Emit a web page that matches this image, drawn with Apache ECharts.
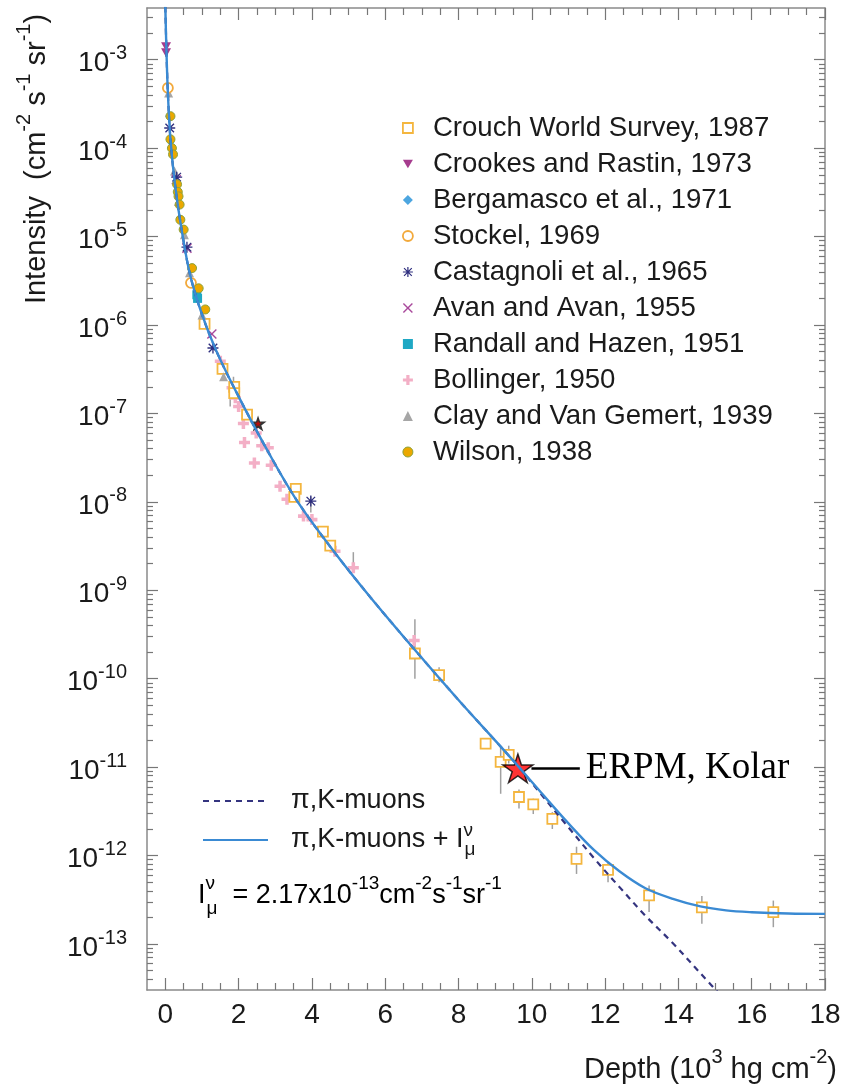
<!DOCTYPE html>
<html>
<head>
<meta charset="utf-8">
<script src="https://cdn.jsdelivr.net/npm/echarts@6/dist/echarts.min.js"></script>
<style>
  html, body { margin: 0; padding: 0; background: #fff; }
  #chart { width: 851px; height: 1092px; }
</style>
</head>
<body>
<div id="chart"></div>
<script>
// depth in 10^3 hg/cm2, intensity in cm-2 s-1 sr-1
const crouch = [[1.07, 1.03e-6], [1.56, 3.2e-7], [1.88, 2.0e-7], [1.88, 1.7e-7], [2.23, 9.7e-8],
  [3.56, 1.4e-8], [3.52, 1.14e-8], [4.30, 4.6e-9], [4.50, 3.2e-9], [6.81, 1.93e-10], [7.47, 1.1e-10],
  [8.74, 1.85e-11], [9.15, 1.15e-11], [9.37, 1.38e-11], [9.65, 4.6e-12], [10.04, 3.8e-12],
  [10.56, 2.6e-12], [11.22, 9.2e-13], [12.08, 6.9e-13], [13.20, 3.55e-13], [14.64, 2.6e-13], [16.59, 2.3e-13]];
const crookes = [[0.02, 1.4e-3], [0.02, 1.2e-3]];
const bergamasco = [[0.09, 2.3e-4], [0.15, 1.16e-4]];
const stockel = [[0.07, 4.8e-4], [0.70, 3.0e-6]];
const castagnoli = [[0.12, 1.69e-4], [0.31, 4.7e-5], [0.59, 7.6e-6], [1.30, 5.5e-7], [3.97, 1.02e-8]];
const avan = [[0.30, 4.4e-5], [0.59, 7.4e-6], [1.27, 7.9e-7]];
const randall = [[0.86, 2.2e-6], [0.88, 2.0e-6]];
const bollinger = [[1.50, 3.9e-7], [1.82, 1.95e-7], [1.91, 1.5e-7], [2.00, 1.2e-7], [2.13, 7.7e-8],
  [2.48, 6.0e-8], [2.16, 4.7e-8], [2.63, 4.3e-8], [2.81, 4.1e-8], [2.43, 2.75e-8], [2.89, 2.6e-8],
  [3.13, 1.5e-8], [3.32, 1.07e-8], [3.77, 6.9e-9], [4.00, 6.3e-9], [4.63, 2.76e-9], [5.13, 1.8e-9], [6.79, 2.7e-10]];
const clay = [[0.09, 4.2e-4], [0.25, 5.5e-5], [0.36, 2.5e-5], [0.52, 1.05e-5], [0.66, 3.9e-6], [1.00, 1.3e-6], [1.59, 2.6e-7]];
const wilson = [[0.14, 2.3e-4], [0.14, 1.26e-4], [0.18, 1.0e-4], [0.21, 8.5e-5], [0.32, 3.9e-5], [0.34, 3.2e-5],
  [0.36, 2.85e-5], [0.39, 2.3e-5], [0.41, 1.55e-5], [0.50, 1.2e-5], [0.73, 4.4e-6], [0.91, 2.6e-6], [1.09, 1.5e-6]];

// [depth, low, high]
const errBars = [[1.77, 1.2e-7, 1.6e-7], [1.86, 1.55e-7, 2.6e-7], [3.97, 7.6e-9, 1.15e-8], [5.13, 1.6e-9, 2.7e-9],
  [6.81, 1.0e-10, 4.7e-10], [7.47, 9.1e-11, 1.35e-10], [9.15, 5.0e-12, 1.74e-11], [9.37, 1.1e-11, 1.75e-11],
  [9.65, 3.4e-12, 5.6e-12], [10.04, 2.95e-12, 4.4e-12], [10.56, 2.0e-12, 3.1e-12], [11.22, 6.2e-13, 1.26e-12],
  [12.08, 5.0e-13, 8.5e-13], [13.20, 2.3e-13, 4.6e-13], [14.64, 1.7e-13, 3.5e-13], [16.59, 1.55e-13, 3.1e-13]];

// curves
const sharedCurve = [[0.0, 3.98e-3], [0.03, 1.29e-3], [0.07, 4.17e-4], [0.14, 1.26e-4], [0.27, 3.72e-5],
  [0.46, 1.10e-5], [0.68, 3.63e-6], [1.0, 1.32e-6], [1.4, 5.0e-7], [2.0, 1.55e-7], [2.8, 3.72e-8],
  [3.6, 1.02e-8], [4.6, 2.75e-9], [5.6, 8.3e-10], [6.8, 2.14e-10], [8.0, 5.75e-11], [9.2, 1.62e-11], [9.65, 1.0e-11]];
const totalTail = [[10.2, 5.47e-12], [11.0, 2.31e-12], [11.7, 1.15e-12], [12.4, 6.6e-13], [13.1, 4.27e-13],
  [13.85, 3.24e-13], [14.6, 2.66e-13], [15.3, 2.4e-13], [16.0, 2.29e-13], [17.0, 2.21e-13], [18.0, 2.19e-13]];
const muonTail = [[10.2, 5.25e-12], [11.0, 2.09e-12], [11.7, 9.33e-13], [12.4, 4.37e-13], [13.1, 2.09e-13],
  [13.85, 1.02e-13], [14.6, 4.68e-14], [15.3, 2.24e-14]];

const kolarStar = [[9.62, 9.7e-12]];
const otherStar = [[2.53, 7.7e-8]];
const arrowFrom = [11.31, 9.7e-12];
const arrowTo = [9.99, 9.7e-12];

const xTickLabels = [0, 2, 4, 6, 8, 10, 12, 14, 16, 18];
const yTickLabels = [-13, -12, -11, -10, -9, -8, -7, -6, -5, -4, -3];

const X_MIN = -0.5, X_MAX = 18;
const Y_MIN = -13.52, Y_MAX = -2.415;   // log10 of intensity
const FONT = 'Liberation Sans';
const INK = '#1a1a1a';

const lg = pts => pts.map(p => [p[0], Math.log10(p[1])]);

const xMinor = [];
for (let v = 0.5; v < X_MAX; v += 0.5) if (v % 2 !== 0) xMinor.push(v);
const yMinor = [];
for (let n = -14; n <= -3; n++) {
  for (let k = 2; k <= 9; k++) {
    const v = n + Math.log10(k);
    if (v > Y_MIN && v < Y_MAX) yMinor.push(v);
  }
}

const STAR = 'path://M50,0L61.23,34.55L97.55,34.55L68.17,55.9L79.39,90.45L50,69.1L20.61,90.45L31.83,55.9L2.45,34.55L38.77,34.55Z';
const TRI_DOWN = 'path://M0,0L100,0L50,87Z';
const ASTER = 'path://M0,44L100,44L100,56L0,56Z M44,0L56,0L56,100L44,100Z M15.5,7L93,84.5L84.5,93L7,15.5Z M84.5,7L93,15.5L15.5,93L7,84.5Z';
const XMARK = 'path://M10,0L50,40L90,0L100,10L60,50L100,90L90,100L50,60L10,100L0,90L40,50L0,10Z';
const PLUS = 'path://M34,0L66,0L66,34L100,34L100,66L66,66L66,100L34,100L34,66L0,66L0,34L34,34Z';

const markers = [
  { name: 'Crouch World Survey, 1987', data: crouch, symbol: 'rect', size: 10, icon: 'rect',
    style: { color: '#fff', borderColor: '#F4B63F', borderWidth: 1.8 } },
  { name: 'Crookes and Rastin, 1973', data: crookes, symbol: TRI_DOWN, size: [10, 9], icon: TRI_DOWN,
    style: { color: '#A63C8E' } },
  { name: 'Bergamasco et al., 1971', data: bergamasco, symbol: 'diamond', size: [7, 10], icon: 'diamond',
    style: { color: '#4DA6E0' } },
  { name: 'Stockel, 1969', data: stockel, symbol: 'circle', size: 10, icon: 'circle',
    style: { color: '#fff', borderColor: '#F2A93B', borderWidth: 1.8 } },
  { name: 'Castagnoli et al., 1965', data: castagnoli, symbol: ASTER, size: 11, icon: ASTER,
    style: { color: '#2E2E7E' } },
  { name: 'Avan and Avan, 1955', data: avan, symbol: XMARK, size: 10, icon: XMARK,
    style: { color: '#A94A9C' } },
  { name: 'Randall and Hazen, 1951', data: randall, symbol: 'rect', size: 9, icon: 'rect',
    style: { color: '#1FA8C4' } },
  { name: 'Bollinger, 1950', data: bollinger, symbol: PLUS, size: 11, icon: PLUS,
    style: { color: '#F3AFC6' } },
  { name: 'Clay and Van Gemert, 1939', data: clay, symbol: 'triangle', size: 9, icon: 'triangle',
    style: { color: '#A6A6A6' } },
  { name: 'Wilson, 1938', data: wilson, symbol: 'circle', size: 9, icon: 'circle',
    style: { color: '#EBA800', borderColor: '#8DA33A', borderWidth: 1 } }
];
// draw order on the plot (last on top)
const drawOrder = [7, 0, 8, 6, 5, 4, 3, 2, 9, 1];

function xAxisDef(position, ticks, len, main) {
  return {
    type: 'value', position, min: X_MIN, max: X_MAX,
    axisLine: { show: main, onZero: false, lineStyle: { color: '#8a8a8a', width: 1.5 } },
    axisTick: { show: true, inside: true, length: len, customValues: ticks, lineStyle: { color: '#777', width: 1.2 } },
    axisLabel: (main && position === 'bottom') ? {
      customValues: xTickLabels, margin: 11, color: INK, fontFamily: FONT, fontSize: 28
    } : { show: false },
    splitLine: { show: false }
  };
}
function yAxisDef(position, ticks, len, main) {
  return {
    type: 'value', position, min: Y_MIN, max: Y_MAX,
    axisLine: { show: main, onZero: false, lineStyle: { color: '#8a8a8a', width: 1.5 } },
    axisTick: { show: true, inside: true, length: len, customValues: ticks, lineStyle: { color: '#777', width: 1.2 } },
    axisLabel: (main && position === 'left') ? {
      customValues: yTickLabels, margin: 20, padding: [8, 0, 0, 0],
      formatter: v => '{b|10}{s|' + Math.round(v) + '}',
      rich: {
        b: { fontFamily: FONT, fontSize: 28, lineHeight: 40, color: INK, verticalAlign: 'middle' },
        s: { fontFamily: FONT, fontSize: 20, lineHeight: 16, color: INK, verticalAlign: 'top' }
      }
    } : { show: false },
    splitLine: { show: false }
  };
}

const series = [];
series.push({
  type: 'custom', name: 'err', silent: true,
  data: errBars.map(e => [e[0], Math.log10(e[1]), Math.log10(e[2])]),
  encode: { x: 0, y: [1, 2] },
  renderItem: (params, api) => {
    const a = api.coord([api.value(0), api.value(1)]);
    const b = api.coord([api.value(0), api.value(2)]);
    return { type: 'line', shape: { x1: a[0], y1: a[1], x2: b[0], y2: b[1] },
      style: { stroke: '#a0a0a0', lineWidth: 1.5 } };
  }
});
series.push({
  type: 'line', name: 'π,K-muons', data: lg(sharedCurve.concat(muonTail)), symbol: 'none',
  smooth: 0.35,
  lineStyle: { color: '#34347F', width: 2.2, type: [6, 5] }
});
series.push({
  type: 'line', name: 'π,K-muons + Iν', data: lg(sharedCurve.concat(totalTail)), symbol: 'none',
  smooth: 0.35,
  lineStyle: { color: '#3A8AD3', width: 2.4 }
});
drawOrder.forEach(i => {
  const m = markers[i];
  series.push({
    type: 'scatter', name: m.name, data: lg(m.data), symbol: m.symbol, symbolSize: m.size,
    itemStyle: Object.assign({ opacity: 1 }, m.style)
  });
});
series.push({
  type: 'scatter', name: 'star-black', data: lg(otherStar), symbol: STAR, symbolSize: 17, symbolKeepAspect: true,
  itemStyle: { color: '#000' }
});
series.push({
  type: 'scatter', name: 'star-red', data: lg(otherStar), symbol: STAR, symbolSize: 7, symbolKeepAspect: true,
  itemStyle: { color: '#E00000' }
});
series.push({
  type: 'scatter', name: 'ERPM', data: lg(kolarStar), symbol: STAR, symbolSize: 30, symbolKeepAspect: true,
  itemStyle: { color: '#FF0000', borderColor: '#000', borderWidth: 1.5 },
  markLine: {
    silent: true, symbol: ['none', 'arrow'], symbolSize: [0, 17],
    lineStyle: { color: '#000', width: 2.5, type: 'solid' },
    label: {
      show: true, position: 'start', distance: 6, formatter: 'ERPM, Kolar',
      fontFamily: 'Liberation Serif', fontSize: 37, color: '#000', padding: [8, 0, 0, 0]
    },
    data: [[{ coord: [arrowFrom[0], Math.log10(arrowFrom[1])] }, { coord: [arrowTo[0], Math.log10(arrowTo[1])] }]]
  }
});

const supRich = {
  a: { fontFamily: FONT, fontSize: 27, lineHeight: 44, color: INK, verticalAlign: 'middle' },
  s: { fontFamily: FONT, fontSize: 19, lineHeight: 20, color: INK, verticalAlign: 'top' },
  nu: { fontFamily: FONT, fontSize: 19, lineHeight: 20, color: INK, verticalAlign: 'top', width: 1 },
  mu: { fontFamily: FONT, fontSize: 19, lineHeight: 20, color: INK, verticalAlign: 'bottom' }
};

const option = {
  animation: false,
  backgroundColor: '#fff',
  grid: { left: 147, right: 26, top: 8, bottom: 102, containLabel: false },
  xAxis: [
    xAxisDef('bottom', xTickLabels, 12, true),
    xAxisDef('bottom', xMinor, 7, false),
    xAxisDef('top', xTickLabels, 12, true),
    xAxisDef('top', xMinor, 7, false)
  ],
  yAxis: [
    yAxisDef('left', yTickLabels, 11, true),
    yAxisDef('left', yMinor, 6, false),
    yAxisDef('right', yTickLabels, 11, true),
    yAxisDef('right', yMinor, 6, false)
  ],
  legend: [
    {
      orient: 'vertical', left: 402, top: 113, padding: 0, itemWidth: 10, itemHeight: 10, itemGap: 6,
      selectedMode: false,
      textStyle: { fontFamily: FONT, fontSize: 27.6, lineHeight: 30, color: INK, padding: [0, 0, 0, 15] },
      data: markers.map(m => ({ name: m.name, icon: m.icon, itemStyle: m.style }))
    },
    {
      orient: 'vertical', left: 202, top: 782, padding: 0, itemWidth: 65, itemHeight: 12, itemGap: 1,
      selectedMode: false,
      itemStyle: { opacity: 0 },
      textStyle: { fontFamily: FONT, fontSize: 27, lineHeight: 38, color: INK, padding: [0, 0, 0, 18],
        rich: Object.assign({}, supRich, { a: Object.assign({}, supRich.a, { lineHeight: 38 }) }) },
      formatter: n => n === 'π,K-muons' ? '{a|π,K-muons}' : '{a|π,K-muons + I}{nu|ν}{mu|μ}',
      data: ['π,K-muons', 'π,K-muons + Iν']
    }
  ],
  graphic: [
    {
      type: 'text', x: 37, y: 159, rotation: Math.PI / 2,
      style: {
        text: '{a|Intensity  (cm}{s|-2}{a| s}{s|-1}{a| sr}{s|-1}{a|)}',
        align: 'center', verticalAlign: 'middle',
        rich: {
          a: { fontFamily: FONT, fontSize: 29, lineHeight: 46, fill: INK, verticalAlign: 'middle' },
          s: { fontFamily: FONT, fontSize: 20, lineHeight: 21, fill: INK, verticalAlign: 'top' }
        }
      }
    },
    {
      type: 'text', x: 837, y: 1070,
      style: {
        text: '{a|Depth (10}{s|3}{a| hg cm}{s|-2}{a|)}',
        align: 'right', verticalAlign: 'middle',
        rich: {
          a: { fontFamily: FONT, fontSize: 29, lineHeight: 46, fill: INK, verticalAlign: 'middle' },
          s: { fontFamily: FONT, fontSize: 20, lineHeight: 20, fill: INK, verticalAlign: 'top' }
        }
      }
    },
    {
      type: 'text', x: 198, y: 896,
      style: {
        text: '{a|I}{nu|ν}{mu|μ}{a|  = 2.17x10}{s|-13}{a|cm}{s|-2}{a|s}{s|-1}{a|sr}{s|-1}',
        align: 'left', verticalAlign: 'middle',
        rich: supRich
      }
    }
  ],
  series
};

const chart = echarts.init(document.getElementById('chart'));
chart.setOption(option);
</script>
</body>
</html>
